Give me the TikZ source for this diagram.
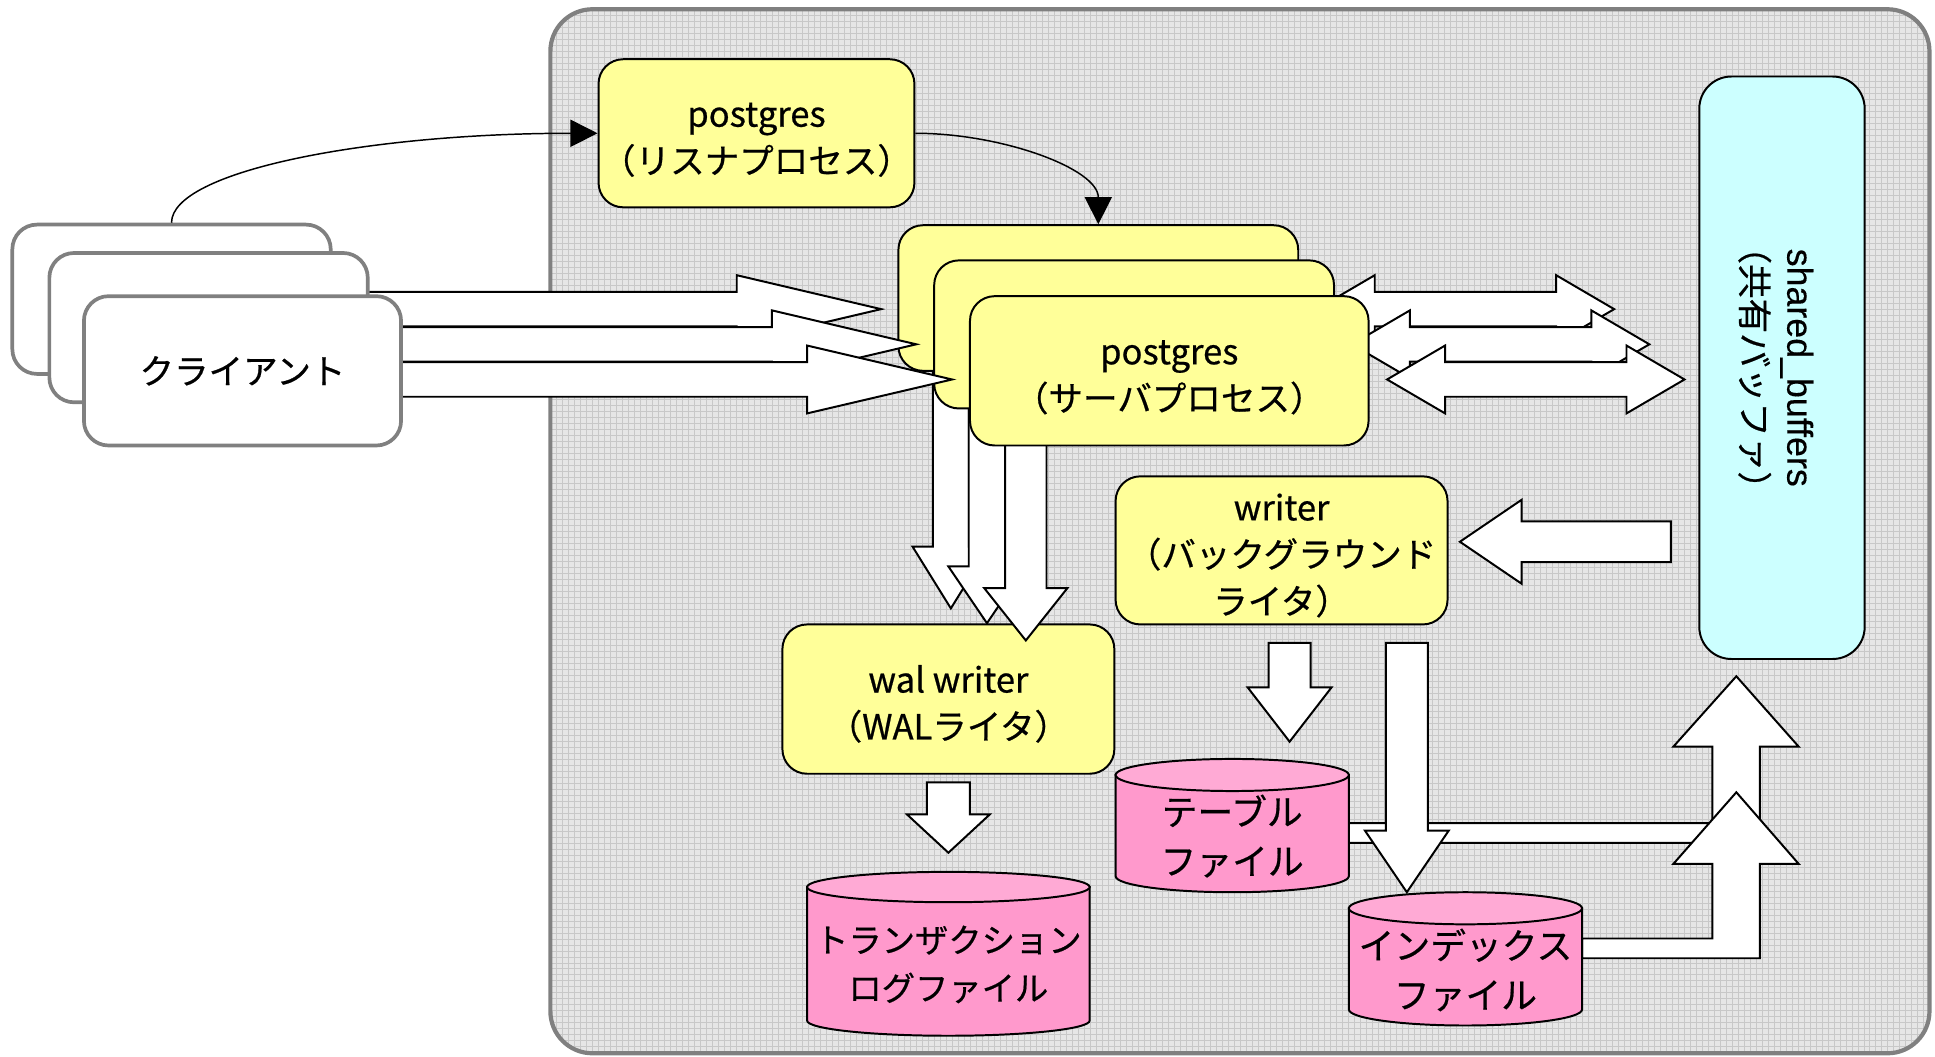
\documentclass[tikz,border=0pt]{standalone}
\usepackage{fontspec}
\setmainfont{Noto Sans CJK JP}[FakeBold=0.6]
\newfontfamily\pgarialfont{Liberation Sans}[FakeBold=0.3]
\usetikzlibrary{arrows.meta}
\definecolor{procyellow}{HTML}{FFFF99}
\definecolor{clientgray}{HTML}{808080}
\definecolor{hostgray}{HTML}{808080}
\definecolor{sbcyan}{HTML}{CCFFFF}
\definecolor{pinkbody}{HTML}{FF99CC}
\definecolor{pinktop}{HTML}{FFAAD5}
\definecolor{bggray}{HTML}{E6E6E6}
\definecolor{gridgray}{HTML}{C8C8C8}
\newcommand{\pgboxfont}{\fontsize{14}{19}\selectfont}
\newcommand{\pgcylfont}{\fontsize{13.5}{19.5}\selectfont}
\newcommand{\pgcylbigfont}{\fontsize{14.5}{20}\selectfont}
\newcommand{\pgdn}{\rule{0pt}{15pt}}
% cylinder: x1, x2, y of top ellipse centre, y of bottom ellipse centre, x radius, y radius
\newcommand{\pgcyl}[6]{%
  \filldraw[cylline, fill=pinkbody] (#1,#3) -- (#1,#4)
    arc[start angle=180, end angle=360, x radius=#5, y radius=#6] -- (#2,#3) -- cycle;
  \filldraw[cylline, fill=pinktop] ({(#1+#2)/2},#3) ellipse[x radius=#5, y radius=#6];
}
\tikzset{
  blk/.style={draw=black, fill=white, line width=0.8pt, line join=miter},
  proc/.style={draw=black, fill=procyellow, line width=0.8pt, rounded corners=10pt,
    align=center, inner sep=0pt, font=\pgboxfont},
  client/.style={draw=clientgray, fill=white, line width=1.5pt, rounded corners=10pt,
    align=center, inner sep=0pt, font=\pgboxfont},
  sbbox/.style={draw=black, fill=sbcyan, line width=0.8pt, rounded corners=13pt, inner sep=0pt},
  conn/.style={draw=black, line width=0.6pt, -{Triangle[length=11pt,width=11pt]}},
  cylline/.style={draw=black, line width=0.8pt},
  cyltext/.style={align=center, font=\pgcylfont, inner sep=0pt},
  gridln/.style={draw=gridgray, line width=0.3pt},
  hostline/.style={draw=hostgray, line width=1.7pt, rounded corners=17pt},
}
\begin{document}
\begin{tikzpicture}[x=0.5pt, y=-0.5pt]
\useasboundingbox (0,0) rectangle (1568,856);

% ---- host container with grid pattern ----
\begin{scope}
  \clip[rounded corners=17pt] (446,7.5) rectangle (1563.5,853.5);
  \fill[bggray] (440,0) rectangle (1570,860);
  \foreach \i in {0,...,231} \draw[gridln] ({446+4.86*\i},0) -- ({446+4.86*\i},860);
  \foreach \j in {0,...,176} \draw[gridln] (440,{7.5+4.86*\j}) -- (1570,{7.5+4.86*\j});
\end{scope}
\node[hostline, draw, minimum width=558.75pt, minimum height=423pt, inner sep=0pt] (host) at (1004.75,430.5) {};

% ---- server <-> shared_buffers double arrows (behind servers) ----
\draw[blk] (1067,250.5) -- (1114,223) -- (1114,236.5) -- (1261,236.5) -- (1261,223) -- (1308,250.5)
  -- (1261,278) -- (1261,264.5) -- (1114,264.5) -- (1114,278) -- cycle;
\draw[blk] (1095.5,279) -- (1142.5,251.5) -- (1142.5,265) -- (1289.5,265) -- (1289.5,251.5) -- (1336.5,279)
  -- (1289.5,306.5) -- (1289.5,293) -- (1142.5,293) -- (1142.5,306.5) -- cycle;
\draw[blk] (1124,307.5) -- (1171,280) -- (1171,293.5) -- (1318,293.5) -- (1318,280) -- (1365,307.5)
  -- (1318,335) -- (1318,321.5) -- (1171,321.5) -- (1171,335) -- cycle;

% ---- wal writer ----
\node[proc, minimum width=134.5pt, minimum height=60.5pt] (wal) at (768.5,566.5) {\pgdn wal writer\\（WALライタ）};

% ---- server -> wal writer arrows ----
\draw[blk] (756,300) -- (785,300) -- (785,443) -- (801.5,443) -- (770.5,493) -- (739.5,443) -- (756,443) -- cycle;
\draw[blk] (785,330) -- (814.5,330) -- (814.5,459) -- (831,459) -- (799.75,505) -- (768.5,459) -- (785,459) -- cycle;
\draw[blk] (814.5,330) -- (848,330) -- (848,476.5) -- (865,476.5) -- (831.25,519) -- (797.5,476.5) -- (814.5,476.5) -- cycle;

% ---- server processes ----
\node[proc, minimum width=162pt, minimum height=59pt] (s1) at (890,241.5) {};
\node[proc, minimum width=162pt, minimum height=60pt] (s2) at (919,271) {};
\node[proc, minimum width=161.5pt, minimum height=60.5pt] (s3) at (947.5,300.5) {\pgdn postgres\\（サーバプロセス）};

% ---- client -> server arrows ----
\draw[blk] (298,236.5) -- (597,236.5) -- (597,223) -- (714,250.5) -- (597,278) -- (597,264.5) -- (298,264.5) -- cycle;
\draw[blk] (300,265) -- (625.5,265) -- (625.5,251.5) -- (742.5,279) -- (625.5,306.5) -- (625.5,293) -- (300,293) -- cycle;
\draw[blk] (300,293.5) -- (654,293.5) -- (654,280) -- (771.5,307.5) -- (654,335) -- (654,321.5) -- (300,321.5) -- cycle;

% ---- clients ----
\node[client, minimum width=129pt, minimum height=60.5pt] (c1) at (139,242.5) {};
\node[client, minimum width=129pt, minimum height=60.5pt] (c2) at (169,265.5) {};
\node[client, minimum width=128.5pt, minimum height=60.5pt] (c3) at (196.5,300.5) {クライアント};

% ---- listener ----
\node[proc, minimum width=128pt, minimum height=60pt] (lis) at (613,108) {\pgdn postgres\\（リスナプロセス）};
\draw[conn] (c1.north) .. controls +(0,-42) and +(-185,0) .. (lis.west);
\draw[conn] (lis.east) .. controls +(70,0) and +(0,-45) .. (s1.north);

% ---- background writer & shared buffers ----
\node[proc, minimum width=134.5pt, minimum height=60pt] (bgw) at (1038.5,446) {\pgdn writer\\（バックグラウンド\\ライタ）};
\draw[blk] (1354,422.5) -- (1233,422.5) -- (1233,405) -- (1183,439) -- (1233,473) -- (1233,455.5) -- (1354,455.5) -- cycle;
\node[sbbox, minimum width=67pt, minimum height=236pt] (sb) at (1444,298) {};
\node[rotate=-90, align=center, inner sep=0pt, font=\fontsize{14}{18.5}\selectfont] (sbtext) at (1439,298)
  {{\pgarialfont\fontsize{14.5}{18.5}\selectfont shared\_buffers}\\（共有バッファ）};

% ---- WAL -> transaction log ----
\draw[blk] (751,634) -- (786,634) -- (786,660) -- (802,660) -- (768.5,691) -- (735,660) -- (751,660) -- cycle;
\pgcyl{654}{883}{718.8}{827}{57.25pt}{6.15pt}
\node[cyltext] (logtext) at (768.5,781.5) {トランザクション\\ログファイル};

% ---- table / index files -> shared buffers ----
\draw[blk] (1093,667) -- (1387.5,667) -- (1387.5,605) -- (1356,605) -- (1407,548) -- (1457.5,605)
  -- (1426,605) -- (1426,683) -- (1093,683) -- cycle;
\pgcyl{904}{1093}{628}{710}{47.25pt}{6.5pt}
\node[cyltext, font=\pgcylbigfont] (tbltext) at (998.5,677.5) {テーブル\\ファイル};
\draw[blk] (1282,760.5) -- (1387.5,760.5) -- (1387.5,700) -- (1356,700) -- (1407,642) -- (1457.5,700)
  -- (1426,700) -- (1426,776.5) -- (1282,776.5) -- cycle;
\pgcyl{1093}{1282}{736}{818}{47.25pt}{6.5pt}
\node[cyltext, font=\pgcylbigfont] (idxtext) at (1187.5,786) {インデックス\\ファイル};

% ---- writer -> table / index files ----
\draw[blk] (1028,521) -- (1062,521) -- (1062,557) -- (1079,557) -- (1045,601) -- (1011,557) -- (1028,557) -- cycle;
\draw[blk] (1123,521) -- (1157,521) -- (1157,673) -- (1174,673) -- (1140,723) -- (1106,673) -- (1123,673) -- cycle;

\end{tikzpicture}
\end{document}
